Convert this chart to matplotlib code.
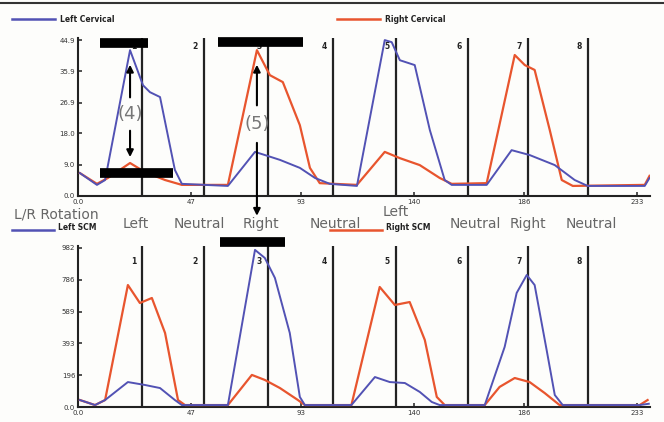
import matplotlib.pyplot as plt
from matplotlib.lines import Line2D
import numpy as np

# time axis (samples) and event markers
events = [26.7, 52.5, 79.2, 106.3, 132.5, 162.5, 187.5, 212.5]
event_names = ['1', '2', '3', '4', '5', '6', '7', '8']
xticks = [0, 47, 93, 140, 186, 233]
xticklabels = ['0.0', '47', '93', '140', '186', '233']

# top panel: cervical EMG
cerv_yticks = [0.0, 9.0, 18.0, 26.9, 35.9, 44.9]
cerv_yticklabels = ['0.0', '9.0', '18.0', '26.9', '35.9', '44.9']
left_cerv_t = [0.8, 7.9, 11.3, 21.7, 27.1, 30.0, 34.2, 40.4, 43.3, 62.5, 73.8, 77.9, 84.2, 92.5, 98.8,
               105.0, 116.3, 127.9, 130.8, 134.2, 140.4, 146.7, 152.9, 155.8, 170.4, 180.8, 188.3,
               198.8, 207.1, 212.5, 236.3, 238.3]
left_cerv_v = [6.6, 3.2, 4.6, 42.0, 31.9, 29.9, 28.5, 7.5, 3.5, 2.9, 12.7, 11.8, 10.4, 8.1, 5.2,
               3.5, 2.9, 44.9, 44.3, 39.1, 37.7, 19.0, 4.6, 3.2, 3.2, 13.2, 11.8,
               8.9, 4.6, 2.9, 2.9, 5.2]
right_cerv_t = [0.8, 7.9, 12.5, 21.7, 27.9, 36.3, 43.3, 62.5, 74.6, 80.0, 85.4, 92.5, 96.7, 100.8,
                116.3, 127.9, 134.2, 142.5, 150.8, 155.8, 170.4, 182.1, 186.3, 190.4, 196.7, 201.7,
                206.3, 236.3, 238.3]
right_cerv_v = [6.6, 3.5, 5.2, 9.5, 6.9, 4.6, 3.2, 3.2, 42.0, 34.8, 32.8, 20.4, 8.1, 3.7,
                3.2, 12.7, 10.9, 8.9, 5.2, 3.5, 3.7, 40.6, 37.7, 36.3, 19.0, 4.6,
                2.9, 3.2, 5.8]

# bottom panel: SCM EMG
scm_yticks = [0, 196, 393, 589, 786, 982]
scm_yticklabels = ['0.0', '196', '393', '589', '786', '982']
left_scm_t = [0.8, 7.1, 11.3, 20.8, 27.9, 34.2, 40.4, 43.3, 62.5, 73.8, 77.9, 82.1, 88.3, 92.5, 94.6,
              114.0, 123.8, 130.0, 136.3, 142.5, 147.5, 150.8, 169.6, 177.9, 182.9, 187.1, 190.4,
              195.4, 198.8, 202.1, 234.2, 238.0]
left_scm_v = [43, 12, 43, 154, 136, 117, 43, 12, 12, 970, 920, 797, 457, 62, 12,
              12, 185, 154, 148, 93, 31, 12, 12, 371, 704, 815, 753,
              352, 74, 12, 12, 20]
right_scm_t = [0.8, 7.1, 11.3, 20.8, 25.8, 30.8, 36.3, 41.7, 44.6, 62.5, 72.5, 77.9, 84.2, 91.7, 94.6,
               114.0, 125.8, 132.1, 138.3, 144.6, 149.6, 152.9, 169.6, 175.8, 182.1, 188.3, 194.6,
               200.8, 234.2, 237.5]
right_scm_v = [43, 12, 43, 753, 642, 673, 457, 43, 12, 12, 198, 167, 117, 43, 12,
               12, 741, 630, 648, 414, 62, 12, 12, 124, 179, 154, 86,
               12, 12, 43]

rotation = ['Left', 'Neutral', 'Right', 'Neutral', 'Left', 'Neutral', 'Right', 'Neutral']

BLUE = '#5252b4'
RED = '#e8552e'
W, H = 664, 422


def fx(px):
    return px / W


def fy(py):
    return 1 - py / H


fig = plt.figure(figsize=(6.64, 4.22), dpi=100)
fig.patch.set_facecolor('#fdfdfb')

ax1 = fig.add_axes([fx(78), fy(196), fx(572), 158 / H])
ax2 = fig.add_axes([fx(78), fy(407), fx(572), 161 / H])

panels = [
    (ax1, left_cerv_t, left_cerv_v, right_cerv_t, right_cerv_v, cerv_yticks, cerv_yticklabels, 45.5, 43.0),
    (ax2, left_scm_t, left_scm_v, right_scm_t, right_scm_v, scm_yticks, scm_yticklabels, 994, 900),
]
for ax, lt, lv, rt, rv, yt, ytl, ytop, lab_y in panels:
    ax.set_facecolor('none')
    for e in events:
        ax.axvline(e, color='#222222', lw=1.6, zorder=1)
    ax.plot(rt, rv, color=RED, lw=1.6, zorder=3)
    ax.plot(lt, lv, color=BLUE, lw=1.4, zorder=3)
    for e, n in zip(events, event_names):
        ax.text(e - 2.5, lab_y, n, ha='right', va='center', fontsize=5.5, fontweight='bold', color='#222')
    ax.set_xlim(0, 238.5)
    ax.set_ylim(0, ytop)
    ax.set_xticks(xticks)
    ax.set_xticklabels(xticklabels)
    ax.set_yticks(yt)
    ax.set_yticklabels(ytl)
    ax.tick_params(labelsize=5, colors='#333', direction='in', length=3, width=1.2, pad=2)
    for s in ['top', 'right']:
        ax.spines[s].set_visible(False)
    for s in ['left', 'bottom']:
        ax.spines[s].set_linewidth(1.5)
        ax.spines[s].set_color('#222')

# black bars
ax1.plot([9.2, 29.2], [44.0, 44.0], color='black', lw=7, solid_capstyle='butt', clip_on=False, zorder=5)
ax1.plot([58.3, 93.8], [44.3, 44.3], color='black', lw=7, solid_capstyle='butt', clip_on=False, zorder=5)
ax1.plot([9.2, 39.6], [6.6, 6.6], color='black', lw=7, solid_capstyle='butt', clip_on=False, zorder=5)
ax2.plot([59.2, 86.3], [1019, 1019], color='black', lw=7, solid_capstyle='butt', clip_on=False, zorder=5)

# arrows (4) and (5)
ap = dict(arrowstyle='-|>', color='black', lw=1.5, mutation_scale=10)
ax1.annotate('', xy=(21.7, 38.6), xytext=(21.7, 27.6), arrowprops=ap, zorder=6)
ax1.annotate('', xy=(21.7, 10.4), xytext=(21.7, 19.6), arrowprops=ap, zorder=6)
ax1.text(21.7, 23.6, '(4)', ha='center', va='center', fontsize=13, color='#777')
ax1.annotate('', xy=(74.6, 38.6), xytext=(74.6, 25.3), arrowprops=ap, zorder=6)
ax1.annotate('', xy=(74.6, -6.5), xytext=(74.6, 16.1), arrowprops=ap, zorder=6,
             annotation_clip=False)
ax1.text(74.6, 20.7, '(5)', ha='center', va='center', fontsize=13, color='#777')

# top legend
fig.add_artist(Line2D([fx(12), fx(55)], [fy(19), fy(19)], color=BLUE, lw=1.8))
fig.text(fx(60), fy(19), 'Left Cervical', fontsize=5.5, fontweight='bold', color='#222', va='center')
fig.add_artist(Line2D([fx(337), fx(380)], [fy(19), fy(19)], color=RED, lw=1.8))
fig.text(fx(385), fy(19), 'Right Cervical', fontsize=5.5, fontweight='bold', color='#222', va='center')

# bottom legend
fig.add_artist(Line2D([fx(12), fx(54)], [fy(230), fy(230)], color=BLUE, lw=1.8))
fig.text(fx(58), fy(228), 'Left SCM', fontsize=5.5, fontweight='bold', color='#222', va='center')
fig.add_artist(Line2D([fx(330), fx(382)], [fy(230), fy(230)], color=RED, lw=1.8))
fig.text(fx(386), fy(228), 'Right SCM', fontsize=5.5, fontweight='bold', color='#222', va='center')

# rotation overlay labels
fig.text(fx(14), fy(215), 'L/R Rotation', fontsize=10, color='#666', va='center')
rot_x = [123, 174, 243, 310, 383, 450, 510, 566]
rot_y = [224, 224, 224, 224, 212, 224, 224, 224]
for name, px, py in zip(rotation, rot_x, rot_y):
    fig.text(fx(px), fy(py), name, fontsize=10, color='#666', va='center')

# top border
fig.add_artist(Line2D([0, 1], [fy(3), fy(3)], color='#333', lw=1.5))

fig.savefig('out.png', dpi=100, facecolor=fig.get_facecolor())
